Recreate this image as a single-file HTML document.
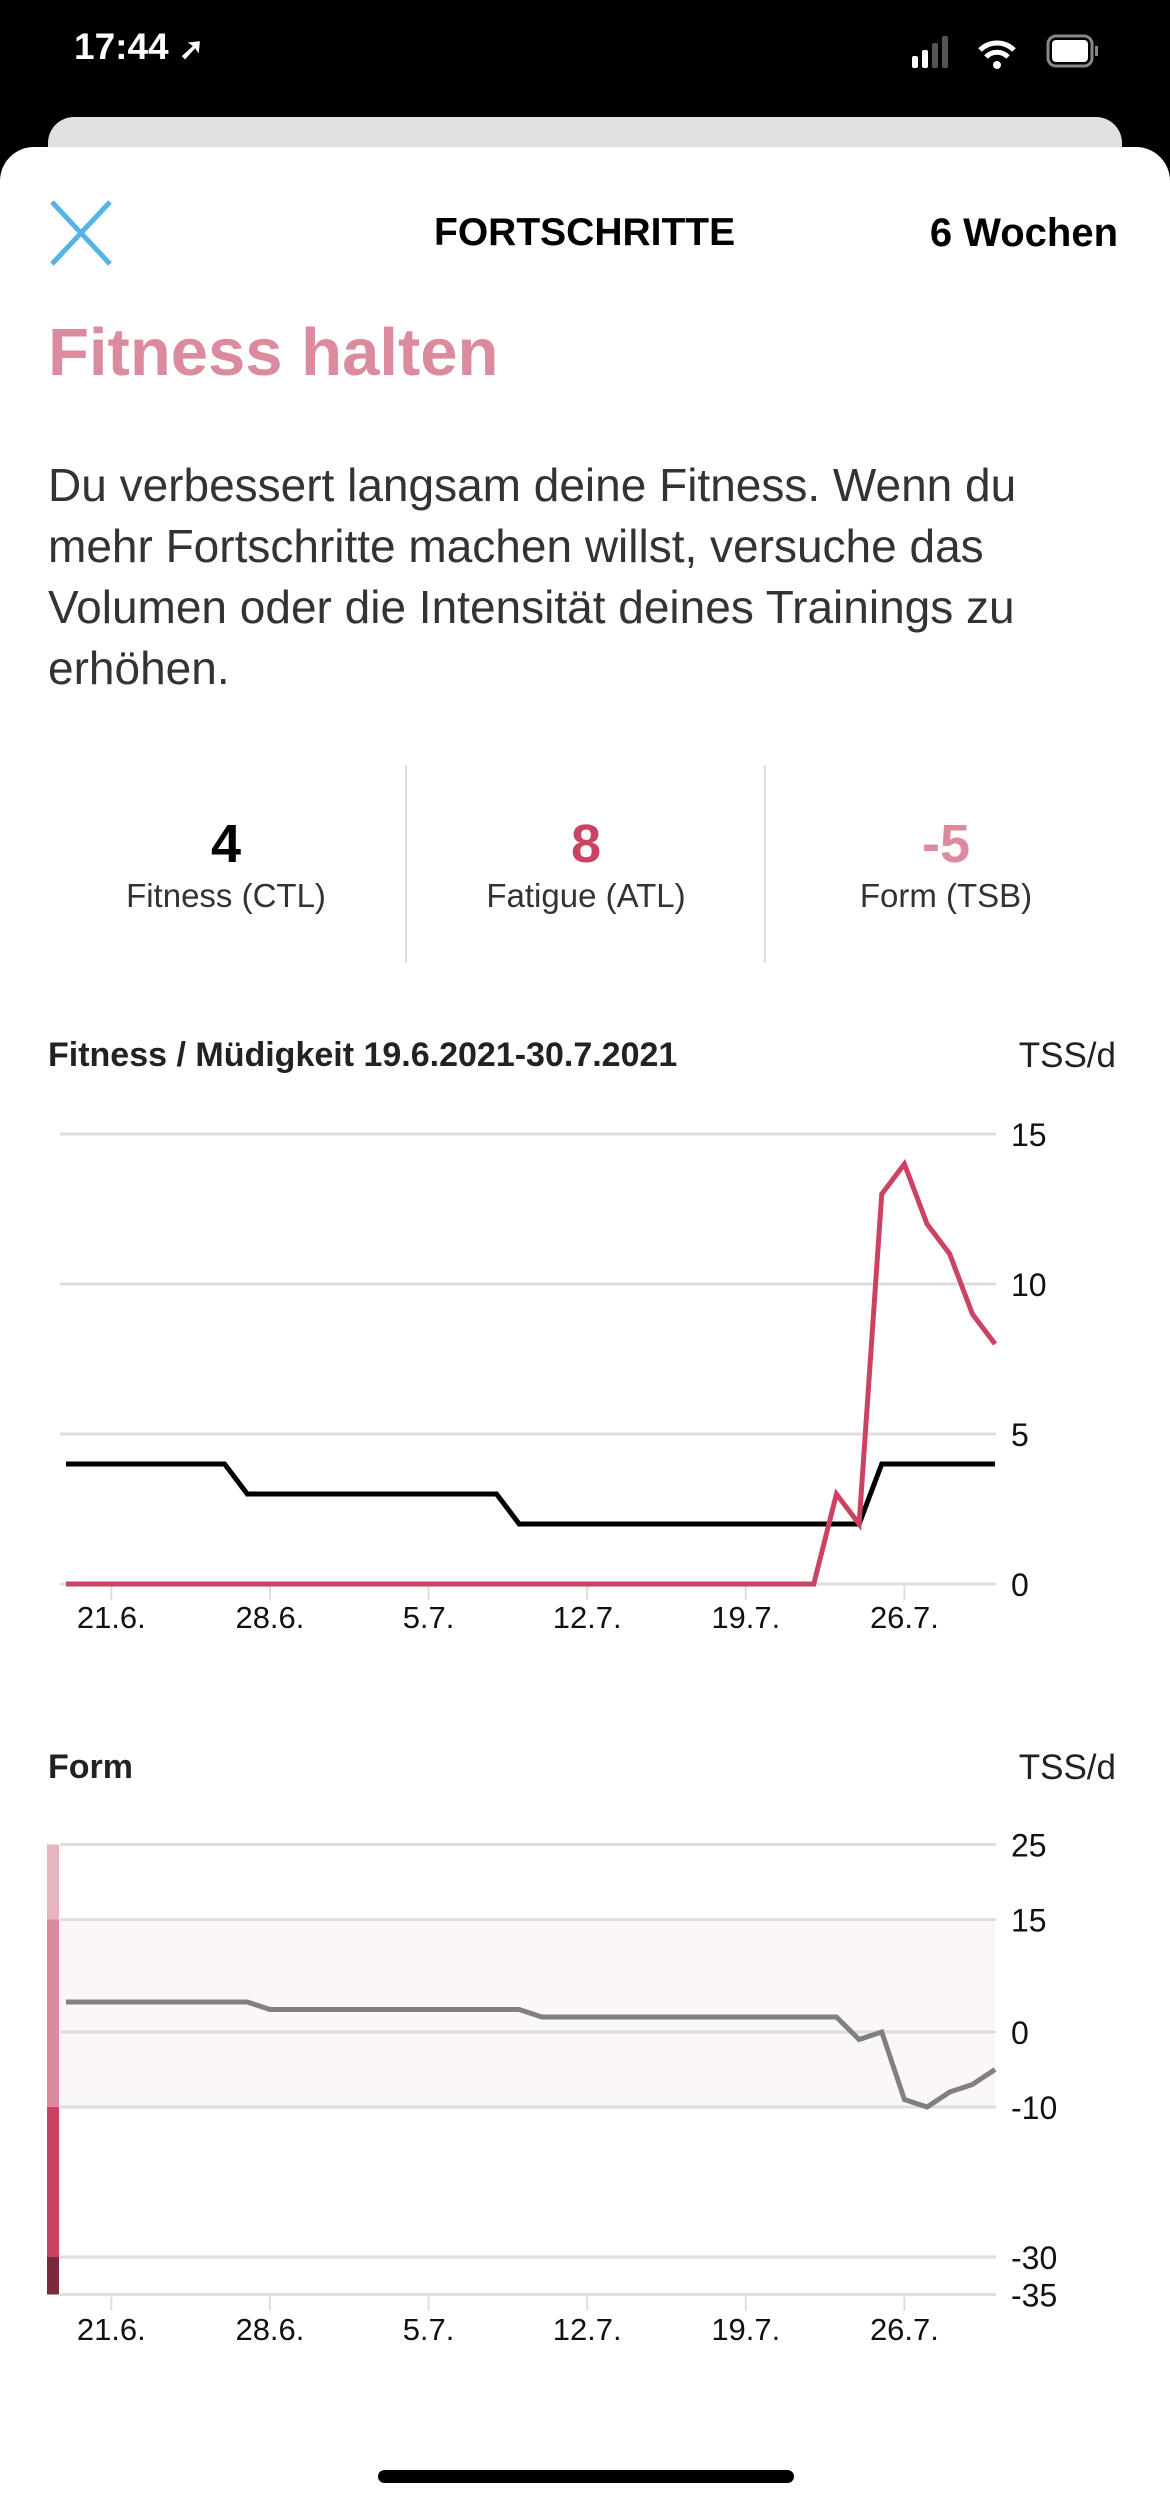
<!DOCTYPE html>
<html><head><meta charset="utf-8">
<style>
*{margin:0;padding:0;box-sizing:border-box}
body{width:1170px;height:2508px;position:relative;background:#000;font-family:"Liberation Sans",sans-serif;overflow:hidden}
.a{position:absolute;white-space:nowrap}
#sheet{position:absolute;left:0;top:147px;width:1170px;height:2361px;background:#fff;border-radius:34px 34px 0 0}
#card{position:absolute;left:48px;top:117px;width:1074px;height:60px;background:#e0e0e0;border-radius:26px 26px 0 0}
.p{font-size:46px;color:#333;left:48px}
.num{font-size:54px;font-weight:bold;transform:translateX(-50%)}
.lbl{font-size:33px;color:#333;transform:translateX(-50%)}
svg text{font-family:"Liberation Sans",sans-serif}
</style></head><body>
<div class="a" style="left:74px;top:26px;font-size:37px;font-weight:bold;color:#fff">17:44 <span style="font-size:30px">➚</span></div>
<svg class="a" style="left:900px;top:30px" width="230" height="50">
<rect x="12" y="26" width="6" height="12" rx="2" fill="#fff"/><rect x="22" y="20" width="6" height="18" rx="2" fill="#fff"/><rect x="32" y="13" width="6" height="25" rx="2" fill="#555"/><rect x="42" y="6" width="6" height="32" rx="2" fill="#555"/>
<path d="M80 20 a24 24 0 0 1 34 0 M86 27 a15 15 0 0 1 22 0" stroke="#fff" stroke-width="5" fill="none"/><circle cx="97" cy="35" r="4" fill="#fff"/>
<rect x="148" y="6" width="44" height="30" rx="8" stroke="#888" stroke-width="3" fill="none"/><rect x="152" y="10" width="36" height="22" rx="4" fill="#fff"/><rect x="195" y="16" width="3" height="10" fill="#888"/>
</svg>
<div id="card"></div>
<div id="sheet"></div>
<svg class="a" style="left:48px;top:200px" width="66" height="66"><path d="M4 2 L62 64 M62 2 L4 64" stroke="#55b4e6" stroke-width="5"/></svg>
<div class="a" style="left:434px;top:211px;font-size:39px;font-weight:bold;color:#000">FORTSCHRITTE</div>
<div class="a" style="right:52px;top:211px;font-size:40px;font-weight:bold;color:#000">6 Wochen</div>
<div class="a" style="left:48px;top:314px;font-size:67px;font-weight:bold;color:#dc8a9e">Fitness halten</div>
<div class="a p" style="top:458px">Du verbessert langsam deine Fitness. Wenn du</div>
<div class="a p" style="top:519px">mehr Fortschritte machen willst, versuche das</div>
<div class="a p" style="top:580px">Volumen oder die Intensität deines Trainings zu</div>
<div class="a p" style="top:641px">erhöhen.</div>
<div class="a" style="left:405px;top:765px;width:2px;height:198px;background:#ddd"></div>
<div class="a" style="left:764px;top:765px;width:2px;height:198px;background:#ddd"></div>
<div class="a num" style="left:226px;top:813px;color:#000">4</div>
<div class="a num" style="left:586px;top:813px;color:#cc4262">8</div>
<div class="a num" style="left:946px;top:813px;color:#dc8a9e">-5</div>
<div class="a lbl" style="left:226px;top:877px">Fitness (CTL)</div>
<div class="a lbl" style="left:586px;top:877px">Fatigue (ATL)</div>
<div class="a lbl" style="left:946px;top:877px">Form (TSB)</div>
<div class="a" style="left:48px;top:1036px;font-size:34px;font-weight:bold;color:#222">Fitness / Müdigkeit 19.6.2021-30.7.2021</div>
<div class="a" style="right:54px;top:1036px;font-size:35px;color:#222">TSS/d</div>
<div class="a" style="left:48px;top:1748px;font-size:34px;font-weight:bold;color:#222">Form</div>
<div class="a" style="right:54px;top:1748px;font-size:35px;color:#222">TSS/d</div>
<svg id="c" class="a" style="left:0;top:0" width="1170" height="2508"></svg>
<div class="a" style="left:378px;top:2470px;width:416px;height:13px;border-radius:7px;background:#000"></div>
<script>
const dateLabels=["21.6.","28.6.","5.7.","12.7.","19.7.","26.7."];
const dateDays=[2,9,16,23,30,37];
const ctl=[4,4,4,4,4,4,4,4,3,3,3,3,3,3,3,3,3,3,3,3,2,2,2,2,2,2,2,2,2,2,2,2,2,2,2,2,4,4,4,4,4,4];
const atl=[0,0,0,0,0,0,0,0,0,0,0,0,0,0,0,0,0,0,0,0,0,0,0,0,0,0,0,0,0,0,0,0,0,0,3,2,13,14,12,11,9,8];
const tsb=[4,4,4,4,4,4,4,4,4,3,3,3,3,3,3,3,3,3,3,3,3,2,2,2,2,2,2,2,2,2,2,2,2,2,2,-1,0,-9,-10,-8,-7,-5];
const ticks1=[0,5,10,15];
const ticks2=[25,15,0,-10,-30,-35];
const NS="http://www.w3.org/2000/svg",svg=document.getElementById('c');
const X=d=>66+d*22.66;
const Y1=v=>1584-v*30;
const Y2=v=>2032-v*7.5;
function el(t,a,p){const e=document.createElementNS(NS,t);for(const k in a)e.setAttribute(k,a[k]);(p||svg).appendChild(e);return e;}
let b=el('rect',{x:60,y:Y2(15),width:935,height:Y2(-10)-Y2(15),fill:'#fbf6f8'});


const zones=[[25,15,'#e8b4c0'],[15,-10,'#dc8a9e'],[-10,-30,'#cc4262'],[-30,-35,'#7a2a3a']];
zones.forEach(z=>{const r=el('rect',{x:47,y:Y2(z[0]),width:12,height:Y2(z[1])-Y2(z[0]),fill:z[2]});

});
ticks1.forEach(v=>{const l=el('line',{x1:60,x2:996,y1:Y1(v),y2:Y1(v),stroke:'#dddde2','stroke-width':3});


const t=el('text',{x:1011,y:Y1(v)+12,'font-size':32,fill:'#111'});t.textContent=v;

});
ticks2.forEach(v=>{const l=el('line',{x1:60,x2:996,y1:Y2(v),y2:Y2(v),stroke:'#dddde2','stroke-width':3});


const t=el('text',{x:1011,y:Y2(v)+12,'font-size':32,fill:'#111'});t.textContent=v;

});
[[Y1(0),1616],[Y2(-35),2328]].forEach(p=>{dateDays.forEach((d,i)=>{
const l=el('line',{x1:X(d),x2:X(d),y1:p[0]+2,y2:p[0]+16,stroke:'#dddde2','stroke-width':2});


const t=el('text',{x:X(d),y:p[1]+12,'font-size':31,fill:'#111','text-anchor':'middle'});t.textContent=dateLabels[i];

});});
function line(arr,Y,col,name){const l=el('polyline',{points:arr.map((v,i)=>X(i)+','+Y(v)).join(' '),fill:'none',stroke:col,'stroke-width':5,'stroke-linejoin':'miter'});

}
line(ctl,Y1,'#000','fitness-line');
line(atl,Y1,'#cc4262','fatigue-line');
line(tsb,Y2,'#808084','form-line');
</script>
</body></html>
